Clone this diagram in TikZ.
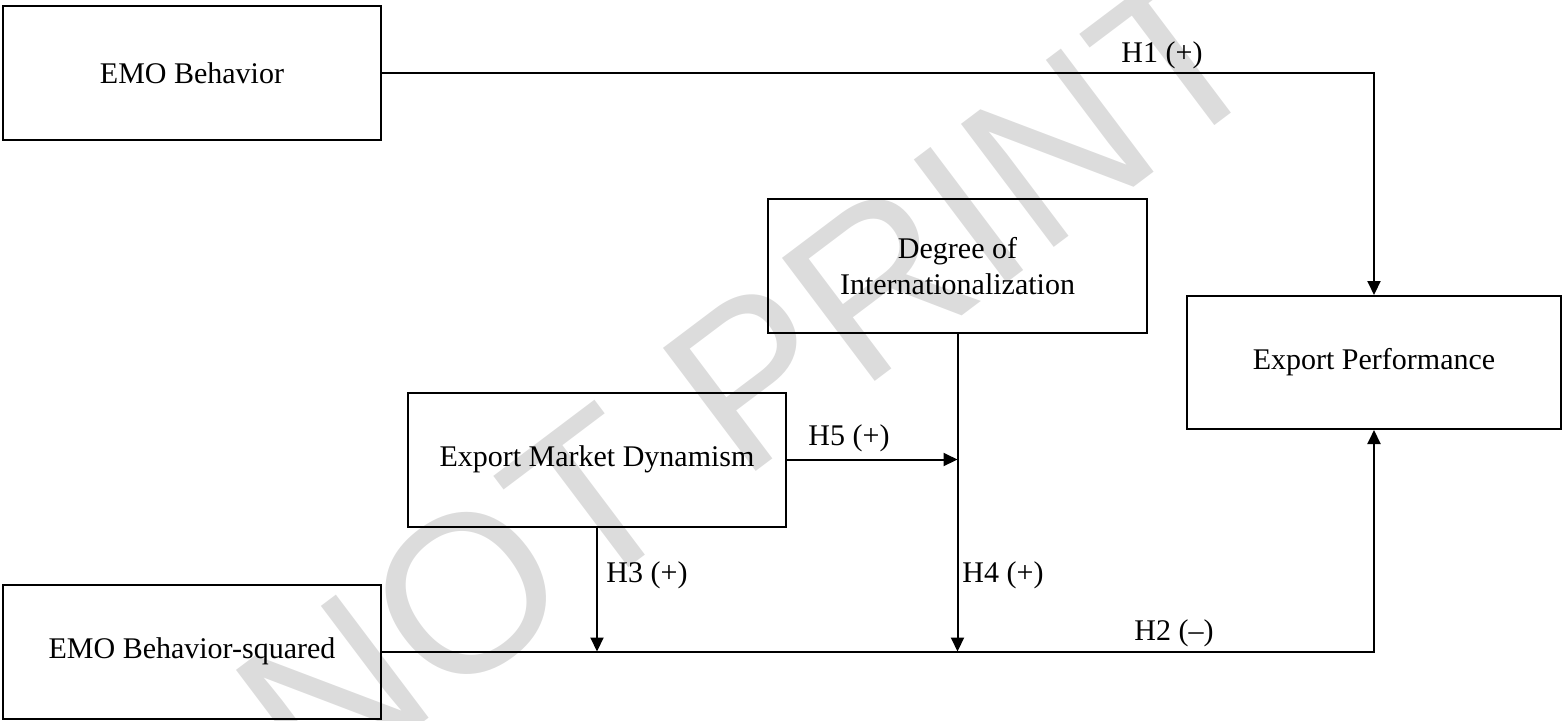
\documentclass[tikz,border=0pt]{standalone}
\usepackage{fontspec}
\setmainfont{Liberation Serif}
\newfontfamily\wmfont{Liberation Sans}
\usetikzlibrary{arrows.meta}
\definecolor{wmgray}{RGB}{220,220,220}
\begin{document}
\begin{tikzpicture}[x=0.5pt,y=-0.5pt,
  box/.style={draw, line width=1pt, rectangle, inner sep=0pt, align=center,
    font=\fontsize{15pt}{18pt}\selectfont, minimum width=189pt, minimum height=67pt},
  lbl/.style={inner sep=0pt, font=\fontsize{15pt}{18pt}\selectfont},
  arr/.style={line width=1pt, -{Triangle[length=7pt,width=6.5pt]}},
  wm/.style={text=wmgray, inner sep=0pt, font=\wmfont\fontsize{112pt}{116pt}\selectfont}
]
\useasboundingbox (0,0) rectangle (1564,720);
% watermark
\node[wm, rotate=37] (wmark) at (750,380) {NOT PRINT};
% boxes
\node[box] (emo)   at (192,73)     {EMO Behavior};
\node[box] (emosq) at (192,651.5)  {EMO Behavior-squared};
\node[box] (emd)   at (597,459.5)  {Export Market Dynamism};
\node[box, minimum width=189.5pt] (doi) at (957.5,266) {Degree of\\Internationalization};
\node[box, minimum width=187pt, minimum height=66.5pt] (ep) at (1374,362.5) {Export Performance};
% connectors
\draw[arr] (emo.east) -| (ep.north);
\draw[arr] (emosq.east) -| (ep.south);
\draw[arr] (emd.south) -- (emd.south |- emosq.east);
\draw[arr] (doi.south) -- (doi.south |- emosq.east);
\draw[arr] (emd.east) -- (doi.south |- emd.east);
% labels
\node[lbl] (h1) at (1162,55)  {H1 (+)};
\node[lbl] (h2) at (1174,633) {H2 (--)};
\node[lbl] (h3) at (647,575)  {H3 (+)};
\node[lbl] (h4) at (1003,575) {H4 (+)};
\node[lbl] (h5) at (849,438)  {H5 (+)};
\end{tikzpicture}
\end{document}
